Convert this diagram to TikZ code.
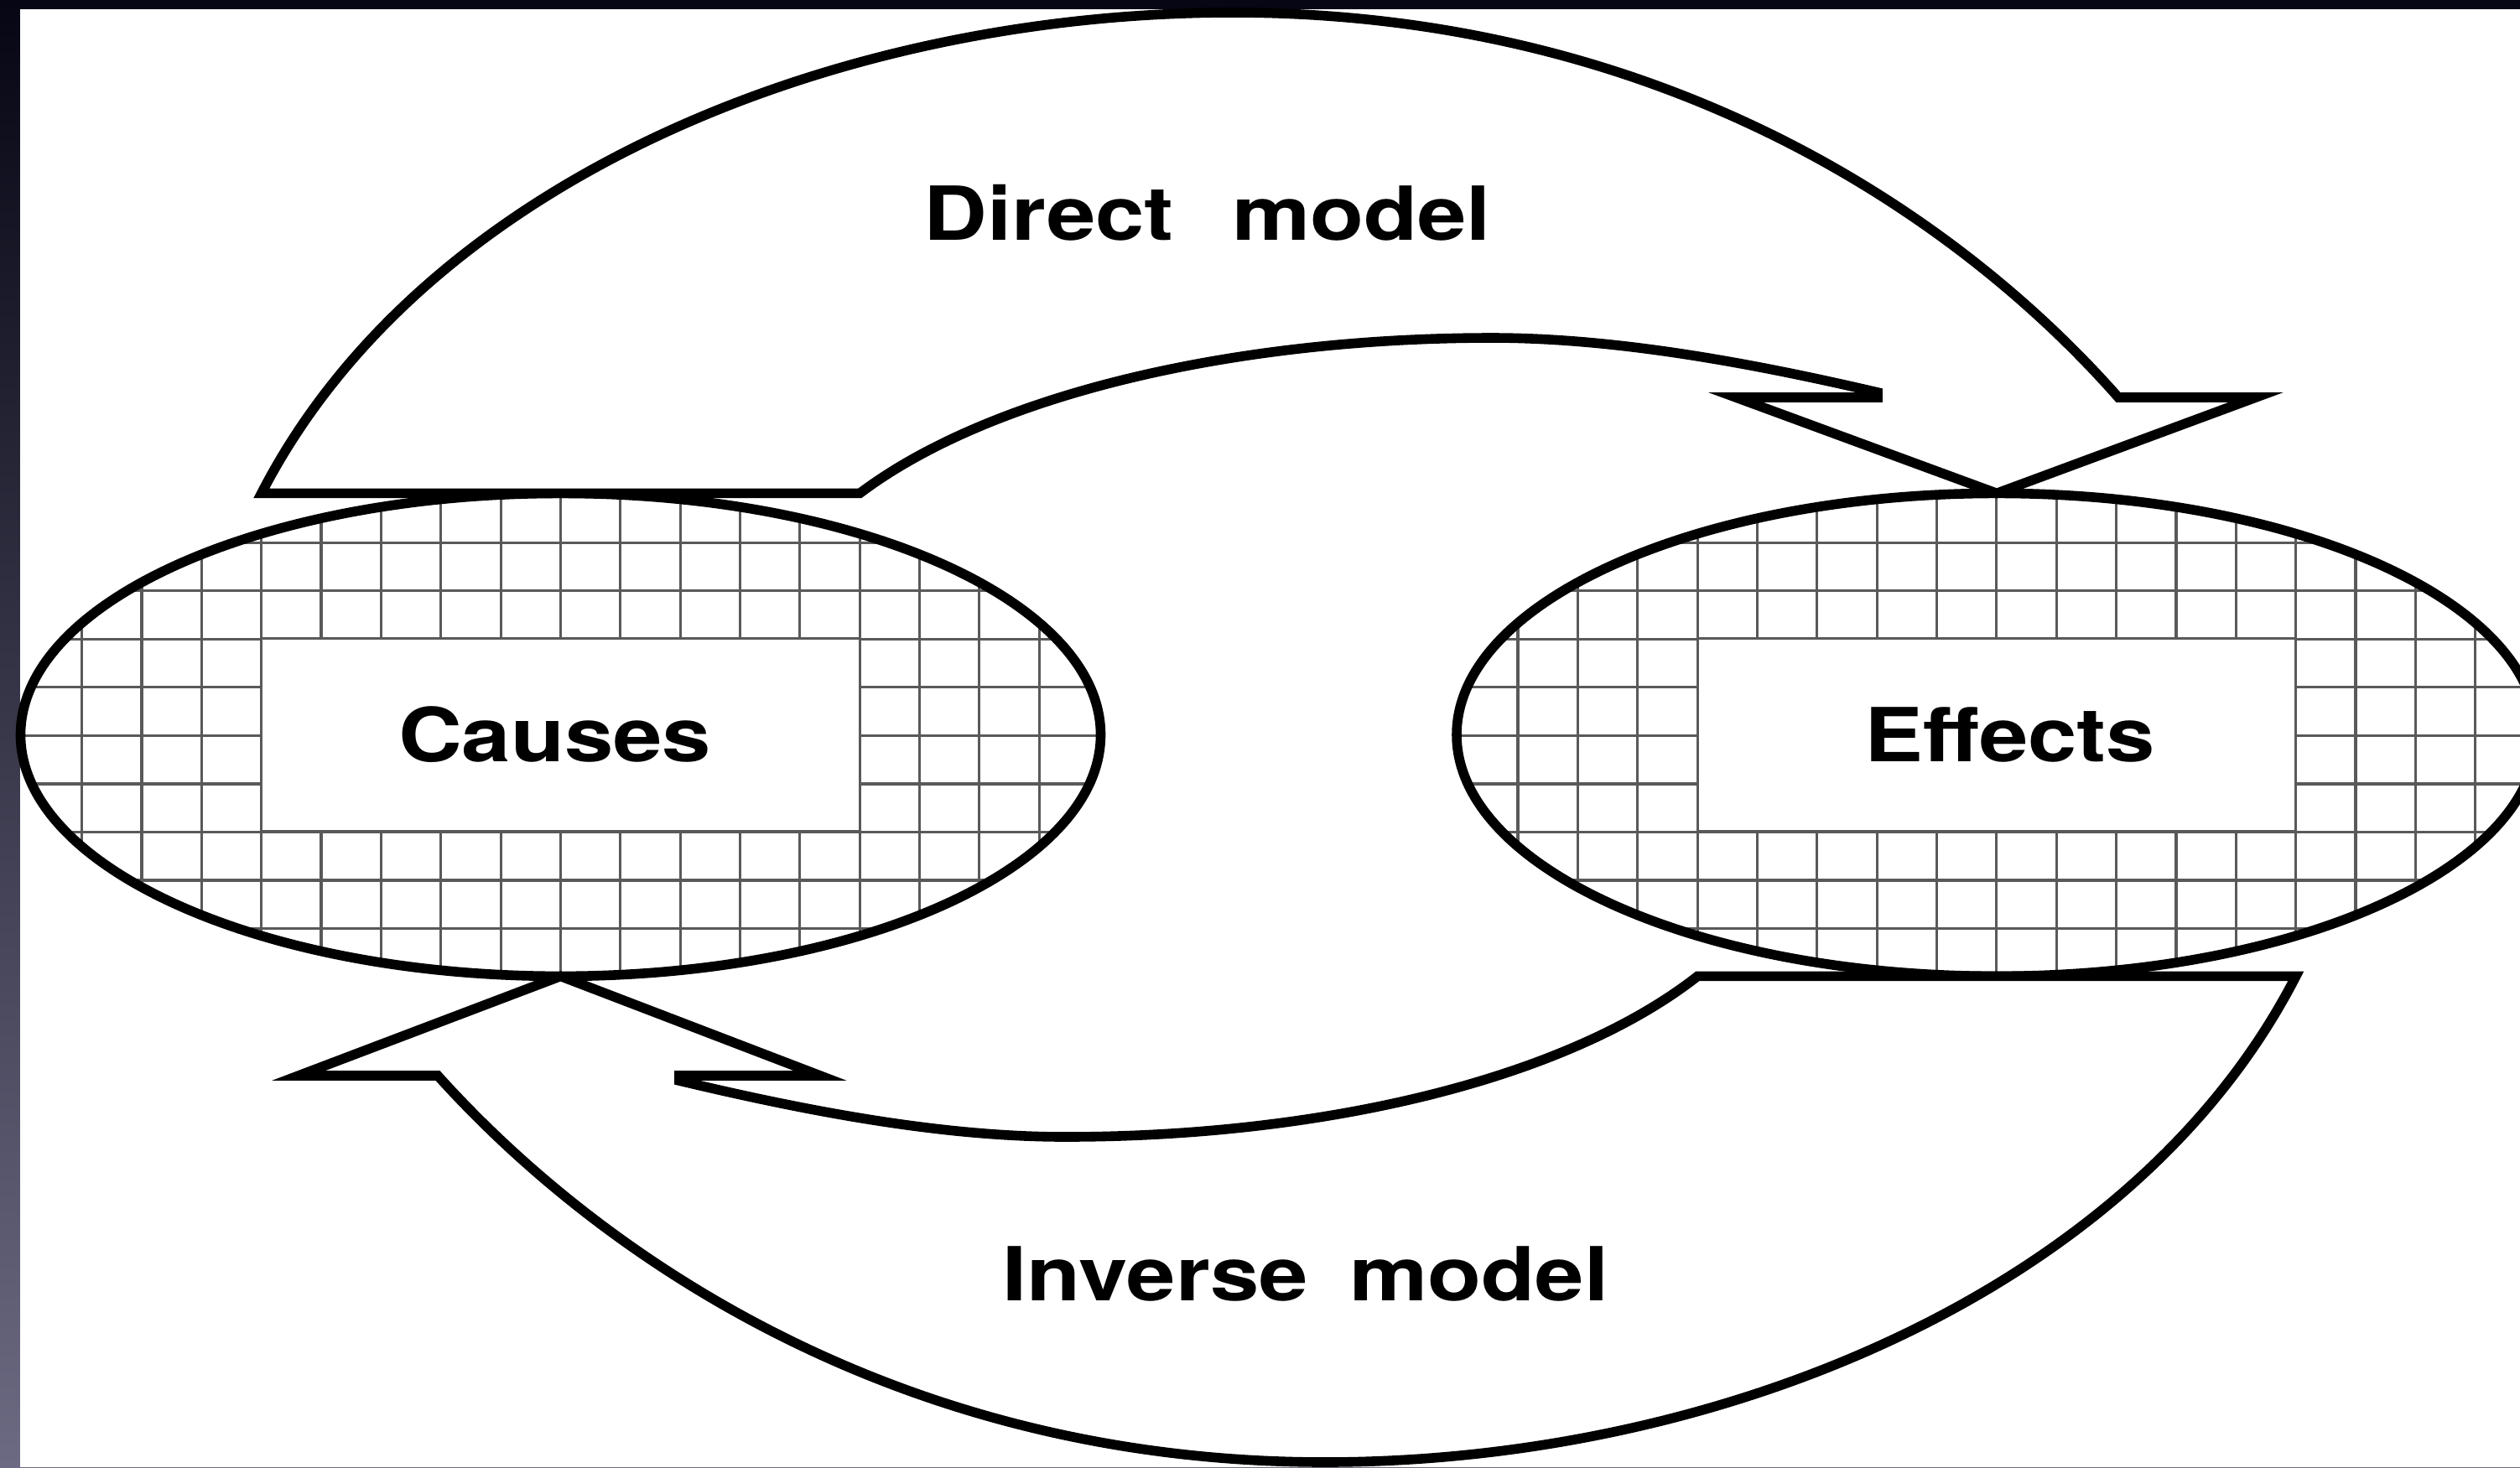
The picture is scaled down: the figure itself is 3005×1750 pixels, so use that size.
\documentclass[tikz,border=0pt]{standalone}
\usepackage{fontspec}
\setmainfont{TeX Gyre Heros}
\usepackage{graphicx}
\usetikzlibrary{shapes.geometric}

\definecolor{frametop}{RGB}{6,6,20}
\definecolor{framemid}{RGB}{24,24,54}
\definecolor{framebot}{RGB}{108,106,130}
\colorlet{gridgray}{black!65}

\newcommand{\labelfont}{\fontsize{25.3pt}{30pt}\selectfont\bfseries}
\newcommand{\widetext}[1]{\scalebox{1.18}[1]{#1}}

\begin{document}
\begin{tikzpicture}[x=0.1mm, y=-0.1mm,
    rim/.style={ellipse, draw, line width=3.3pt, minimum width=128.8mm, minimum height=57.6mm, inner sep=0pt, outer sep=0pt},
    cellbox/.style={rectangle, fill=white, draw=gridgray, line width=0.9pt, minimum width=71.35mm, minimum height=23mm, inner sep=0pt, outer sep=0pt, font=\labelfont},
    gridline/.style={draw=gridgray, line width=0.9pt},
    bigarrow/.style={draw, fill=white, line width=3.3pt, line join=miter},
    caption/.style={anchor=base, font=\labelfont}]
        \useasboundingbox (0,0) rectangle (3005,1750);
        \clip (0,0) rectangle (3005,1750);

        % frame and page
        \fill[top color=frametop, middle color=framemid, bottom color=framebot] (0,0) rectangle (3005,1750);
        \fill[white] (24,11) rectangle (3005,1750);

        % hatching inside both ellipses
        \begin{scope}
            \clip (668.5,876.4) ellipse [x radius=644, y radius=288] (2381,876.4) ellipse [x radius=644, y radius=288];
            \foreach \k in {-4,...,37}
                \draw[gridline] ({311.7+71.35*\k},580) -- ({311.7+71.35*\k},1175);
            \foreach \j in {0,...,8}
                \draw[gridline] (20,{647.4+57.5*\j}) -- (3010,{647.4+57.5*\j});
        \end{scope}

        \node[cellbox] (causes) at (668.5,876.4) {\widetext{Causes\hspace{0.13em}}};
        \node[cellbox] (effects) at (2381,876.4) {\widetext{\hspace{0.3em}Effects}};
        \node[rim] (causes rim) at (668.5,876.4) {};
        \node[rim] (effects rim) at (2381,876.4) {};

        % direct model
        \coordinate (dtl) at (causes.west |- causes rim.north);
        \coordinate (dtr) at (causes.east |- causes rim.north);
        \draw[bigarrow] (dtr) .. controls (1185,468) and (1479,403) .. (1779,403)
            .. controls (1929,403) and (2093,434) .. (2239,468)
            -- (2239,474) -- (2070,474) -- (effects rim.north) -- (2690,474) -- (2526,474)
            .. controls (2326,247) and (1970,15) .. (1470,15)
            .. controls (1000,15) and (505,213) .. (dtl) -- cycle;
        \node[caption] (direct label) at (1440,286) {\widetext{Direct\hspace{0.66em}model}};

        % inverse model
        \coordinate (itl) at (effects.west |- effects rim.south);
        \coordinate (itr) at (effects.east |- effects rim.south);
        \draw[bigarrow] (itl) .. controls (1864,1290) and (1570,1356) .. (1270,1356)
            .. controls (1120,1356) and (957,1324) .. (810,1289)
            -- (810,1283) -- (978,1283) -- (causes rim.south) -- (356,1283) -- (522,1283)
            .. controls (723,1506) and (1080,1744) .. (1580,1744)
            .. controls (2050,1744) and (2545,1540) .. (itr) -- cycle;
        \node[caption] (inverse label) at (1557,1551) {\widetext{Inverse\hspace{0.47em}model}};
      \end{tikzpicture}
\end{document}
